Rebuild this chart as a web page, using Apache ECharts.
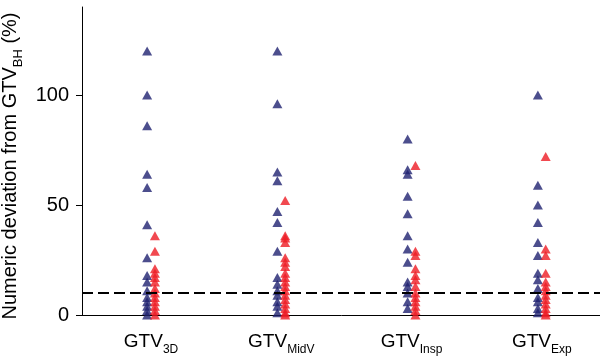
<!DOCTYPE html>
<html>
<head>
<meta charset="utf-8">
<script src="https://cdn.jsdelivr.net/npm/echarts@6/dist/echarts.min.js"></script>
<style>
  html, body { margin: 0; padding: 0; background: #fff; }
  #chart { width: 600px; height: 359px; }
</style>
</head>
<body>
<div id="chart"></div>
<script>
// Groups along the x axis: "GTV" with a subscript per group
const groupMain = 'GTV';
const groupSubs = ['3D', 'MidV', 'Insp', 'Exp'];

// Numeric deviation from GTV_BH (%) per group, two patient sets
const blue3D   = [120, 100, 86, 64, 58, 41, 26, 18, 15, 11, 8, 6, 4, 2, 0];
const red3D    = [36, 29, 21, 19, 17, 15, 12, 10, 8, 6, 4, 2, 0];
const blueMidV = [120, 96, 65, 61, 47, 42, 29, 17, 14, 11, 9, 6, 4, 1];
const redMidV  = [52, 36, 35, 33, 26, 24, 22, 19, 17, 15, 13, 11, 9, 7, 5, 3, 1, 0];
const blueInsp = [80, 66, 64, 54, 46, 36, 30, 24, 15, 13, 10, 6, 3];
const redInsp  = [68, 29, 27, 21, 18, 16, 13, 10, 8, 6, 4, 2, 0];
const blueExp  = [100, 59, 50, 42, 33, 27, 19, 16, 12, 8, 6, 3, 1];
const redExp   = [72, 30, 27, 19, 15, 13, 11, 9, 7, 5, 3, 1, 0];

const yTicks = [0, 50, 100];
const thresholdValue = 10;

const blueGroups = [blue3D, blueMidV, blueInsp, blueExp];
const redGroups  = [red3D, redMidV, redInsp, redExp];

// small horizontal offset so the two sets sit side by side in each group
const OFFSET = 0.03;
function toPoints(groups, shift) {
  const pts = [];
  groups.forEach((vals, i) => vals.forEach(v => pts.push([i + 1 + shift, v])));
  return pts;
}

const FONT = 'Liberation Sans, Arial, Helvetica, sans-serif';
const subStyle = { fontSize: 12, lineHeight: 12, verticalAlign: 'bottom', fontFamily: FONT, color: '#000' };

const chart = echarts.init(document.getElementById('chart'), null, { renderer: 'canvas' });
chart.setOption({
  animation: false,
  backgroundColor: '#fff',
  grid: { left: 82, right: -3, top: 7, bottom: 44, containLabel: false, outerBoundsMode: 'none' },
  xAxis: {
    type: 'value',
    min: 0.47,
    max: 4.47,
    splitLine: { show: false },
    axisLine: { onZero: false, lineStyle: { color: '#000', width: 1 } },
    axisTick: { show: false },
    axisLabel: {
      customValues: [1, 2, 3, 4],
      margin: 12,
      formatter: v => groupMain + '{sub|' + groupSubs[Math.round(v) - 1] + '}',
      fontSize: 19,
      lineHeight: 29,
      fontFamily: FONT,
      color: '#000',
      rich: { sub: subStyle }
    }
  },
  yAxis: {
    type: 'value',
    min: 0,
    max: 140,
    splitLine: { show: false },
    axisLine: { show: true, lineStyle: { color: '#000', width: 1 } },
    axisTick: { show: true, customValues: yTicks, length: 6, lineStyle: { color: '#000' } },
    axisLabel: {
      customValues: yTicks,
      margin: 13,
      fontSize: 20,
      fontFamily: FONT,
      color: '#000'
    },
    name: 'Numeric deviation from GTV{sub|BH} (%)',
    nameLocation: 'middle',
    nameGap: 42,
    nameRotate: 90,
    nameTextStyle: {
      fontSize: 20,
      lineHeight: 29,
      padding: [0, 10, 0, 0],
      fontFamily: FONT,
      color: '#000',
      rich: { sub: { fontSize: 13, lineHeight: 12, verticalAlign: 'bottom', fontFamily: FONT, color: '#000' } }
    }
  },
  series: [
    {
      type: 'scatter',
      data: toPoints(blueGroups, -OFFSET),
      symbol: 'triangle',
      symbolSize: [10, 9],
      itemStyle: { color: '#1f2270' },
      markLine: {
        silent: true,
        symbol: ['none', 'none'],
        label: { show: false },
        lineStyle: { color: '#000', width: 2, type: [11, 5] },
        data: [{ yAxis: thresholdValue }]
      }
    },
    {
      type: 'scatter',
      data: toPoints(redGroups, OFFSET),
      symbol: 'triangle',
      symbolSize: [10, 9],
      itemStyle: { color: '#ee1c24' }
    }
  ]
});
</script>
</body>
</html>
